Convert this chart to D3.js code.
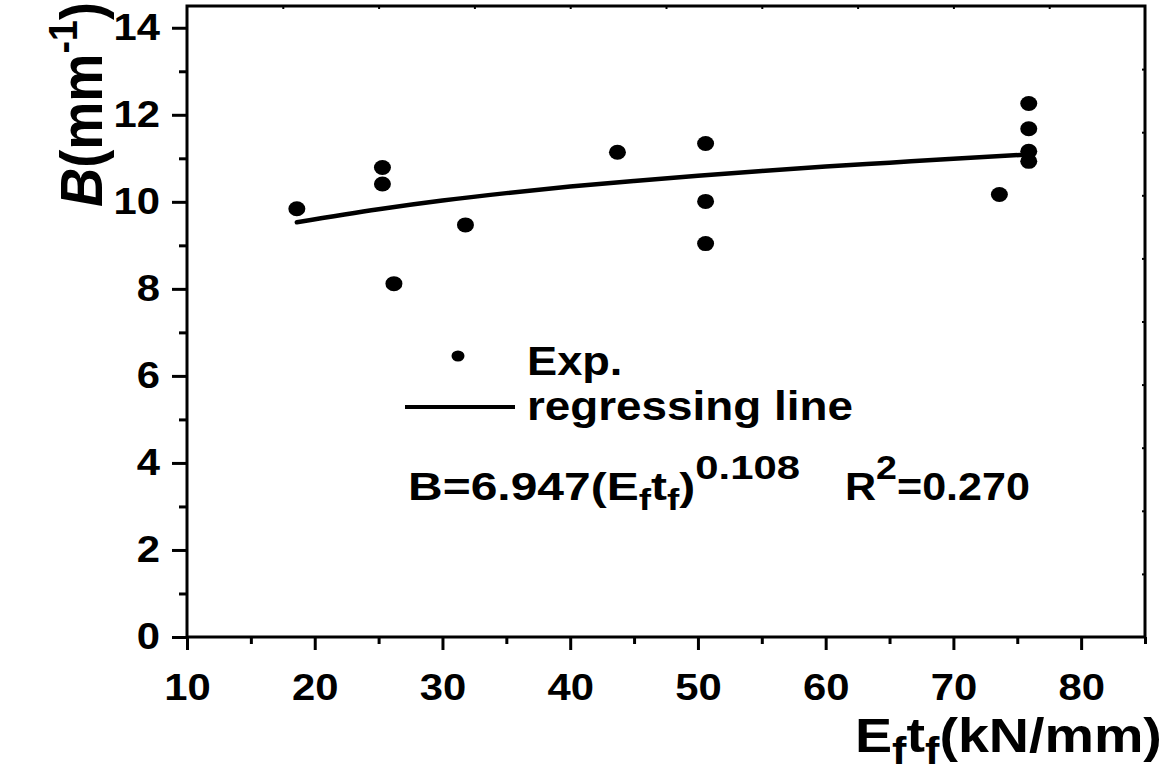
<!DOCTYPE html>
<html><head><meta charset="utf-8">
<script src="https://cdn.jsdelivr.net/npm/d3@7"></script>
<style>
body{margin:0;background:#fff}
svg{display:block}
text{font-family:"Liberation Sans",Arial,sans-serif;font-weight:bold;fill:#000;white-space:pre}
</style>
</head><body>
<svg id="c" width="1174" height="778"></svg>
<script>
// ---- data ----
const expX = [18.6, 25.3, 25.3, 26.2, 31.8, 43.7, 50.6, 50.6, 50.6, 73.6, 75.9, 75.9, 75.9, 75.9];
const expY = [9.84, 10.79, 10.41, 8.12, 9.47, 11.14, 11.34, 10.01, 9.04, 10.17, 12.26, 11.68, 11.16, 10.93];
const fitX = [18.6, 25, 30, 35, 40, 45, 50, 55, 60, 65, 70, 75.9];
const fitY = [9.53, 9.83, 10.03, 10.20, 10.35, 10.48, 10.60, 10.71, 10.81, 10.90, 10.99, 11.09];
const xTicks = [10, 20, 30, 40, 50, 60, 70, 80];
const xMinorTicks = [15, 25, 35, 45, 55, 65, 75, 85];
const yTicks = [0, 2, 4, 6, 8, 10, 12, 14];
const yMinorTicks = [1, 3, 5, 7, 9, 11, 13];
const topTicks = [17.5, 25, 32.5, 40, 47.5, 55, 62.5, 70, 77.5];
const rightTicks = [1.45, 2.9, 4.35, 5.8, 7.25, 8.7, 10.15, 11.6, 13.05];
const legendLabels = ["Exp.", "regressing line"];

const svg = d3.select("#c");
const L = 187, R = 1145, T = 6, B = 637;
const SX = 1.13; // horizontal stretch of the reference
const x = d3.scaleLinear().domain([10, 85]).range([L, R]);
const y = d3.scaleLinear().domain([0, 14.5]).range([B, T]);

function stretchText(sel, k) {
  sel.each(function () {
    const t = d3.select(this);
    const x0 = +t.attr("x") || 0;
    t.attr("transform", `translate(${x0},0) scale(${k},1) translate(${-x0},0)`);
  });
}

// frame
svg.append("rect").attr("x", L).attr("y", T).attr("width", R - L).attr("height", B - T)
  .attr("fill", "none").attr("stroke", "#000").attr("stroke-width", 3);

function styleAxis(g) {
  g.select(".domain").remove();
  g.selectAll(".tick line").attr("stroke", "#000").attr("stroke-width", 3);
}

// bottom axis
const gxb = svg.append("g").attr("transform", `translate(0,${B})`)
  .call(d3.axisBottom(x).tickValues(xTicks).tickSize(13).tickPadding(24).tickFormat(d3.format("d")));
styleAxis(gxb);
gxb.selectAll("text").attr("font-size", 37).attr("font-family", "Liberation Sans, Arial").attr("font-weight", "bold").call(stretchText, SX);
const gxm = svg.append("g").attr("transform", `translate(0,${B})`)
  .call(d3.axisBottom(x).tickValues(xMinorTicks).tickSize(7).tickFormat(""));
styleAxis(gxm);

// left axis
const gyl = svg.append("g").attr("transform", `translate(${L},0)`)
  .call(d3.axisLeft(y).tickValues(yTicks).tickSize(15).tickPadding(12).tickFormat(d3.format("d")));
styleAxis(gyl);
gyl.selectAll("text").attr("font-size", 37).attr("font-family", "Liberation Sans, Arial").attr("font-weight", "bold").call(stretchText, SX);
const gym = svg.append("g").attr("transform", `translate(${L},0)`)
  .call(d3.axisLeft(y).tickValues(yMinorTicks).tickSize(8).tickFormat(""));
styleAxis(gym);

// top & right small inward ticks
const gxt = svg.append("g").attr("transform", `translate(0,${T})`)
  .call(d3.axisTop(x).tickValues(topTicks).tickSize(-3).tickFormat(""));
styleAxis(gxt); gxt.selectAll(".tick line").attr("stroke-width", 2);
const gyr = svg.append("g").attr("transform", `translate(${R},0)`)
  .call(d3.axisRight(y).tickValues(rightTicks).tickSize(-3).tickFormat(""));
styleAxis(gyr); gyr.selectAll(".tick line").attr("stroke-width", 2);

// regression line
const line = d3.line().x((d, i) => x(fitX[i])).y((d, i) => y(fitY[i])).curve(d3.curveMonotoneX);
svg.append("path").datum(fitX).attr("d", line).attr("fill", "none")
  .attr("stroke", "#000").attr("stroke-width", 4.5).attr("stroke-linecap", "round");

// points
svg.append("g").selectAll("ellipse").data(expX).join("ellipse")
  .attr("cx", (d) => x(d)).attr("cy", (d, i) => y(expY[i]))
  .attr("rx", 8.5).attr("ry", 7.5).attr("fill", "#000");

// rich text helper: parts [{t, fs, dy, italic}]
function rich(parent, parts, x0, y0) {
  const t = parent.append("text").attr("x", x0).attr("y", y0);
  parts.forEach((p) => {
    const s = t.append("tspan").text(p.t).attr("font-size", p.fs);
    if (p.dy) s.attr("dy", p.dy);
    if (p.italic) s.attr("font-style", "italic");
  });
  return t;
}
function fitWidth(t, x0, w) {
  const bb = t.node().getBBox();
  const k = w / bb.width;
  t.attr("transform", `translate(${x0},0) scale(${k},1) translate(${-bb.x},0)`);
}

// legend
svg.append("ellipse").attr("cx", 458).attr("cy", 356).attr("rx", 6.5).attr("ry", 5.5).attr("fill", "#000");
svg.append("line").attr("x1", 405).attr("x2", 515).attr("y1", 407).attr("y2", 407)
  .attr("stroke", "#000").attr("stroke-width", 4);
const le1 = rich(svg, [{ t: legendLabels[0], fs: 40 }], 527, 375);
le1.call(stretchText, SX);
const le2 = rich(svg, [{ t: legendLabels[1], fs: 40 }], 527, 420);
fitWidth(le2, 527, 326);

// formula
const f1 = rich(svg, [
  { t: "B=6.947(E", fs: 39 },
  { t: "f", fs: 30, dy: 10 },
  { t: "t", fs: 39, dy: -10 },
  { t: "f", fs: 30, dy: 10 },
  { t: ")", fs: 39, dy: -10 },
  { t: "0.108", fs: 34, dy: -21 }
], 408, 500);
fitWidth(f1, 408, 392);
const f2 = rich(svg, [
  { t: "R", fs: 39 },
  { t: "2", fs: 34, dy: -21 },
  { t: "=0.270", fs: 39, dy: 21 }
], 845, 500);
fitWidth(f2, 845, 185);

// x title
const xt = rich(svg, [
  { t: "E", fs: 49 },
  { t: "f", fs: 38, dy: 12 },
  { t: "t", fs: 49, dy: -12 },
  { t: "f", fs: 38, dy: 12 },
  { t: "(kN/mm)", fs: 49, dy: -12 }
], 855, 752);
fitWidth(xt, 855, 307);

// y title (rotated)
const yg = svg.append("g").attr("transform", "translate(102,207) rotate(-90)");
const yt = rich(yg, [
  { t: "B", fs: 52, italic: true },
  { t: "(mm", fs: 52 },
  { t: "-1", fs: 36, dy: -22 },
  { t: ")", fs: 52, dy: 22 }
], 0, 0);
{
  const bb = yt.node().getBBox();
  const k = 205 / bb.width;
  yt.attr("transform", `scale(${k},${SX})`);
}
</script>
</body></html>
